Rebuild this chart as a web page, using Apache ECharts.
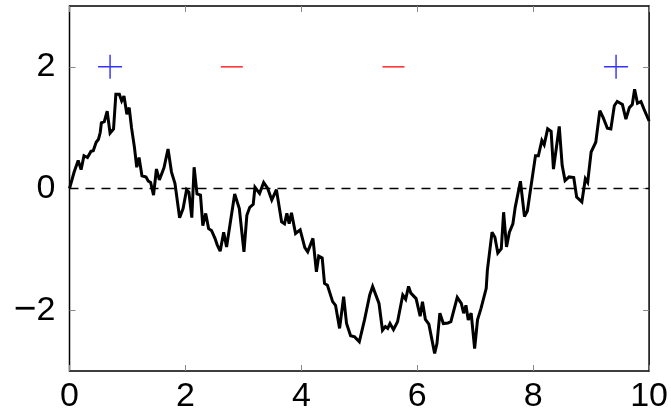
<!DOCTYPE html>
<html><head><meta charset="utf-8">
<script src="https://cdn.jsdelivr.net/npm/echarts@6/dist/echarts.min.js"></script>
<style>html,body{margin:0;padding:0;background:#fff}#c{width:671px;height:415px}</style>
</head><body><div id="c"></div>
<script>
// random-walk samples (x, y)
const walkX = [0,0.08,0.15,0.20,0.25,0.31,0.37,0.41,0.46,0.50,0.53,0.55,0.60,0.65,0.70,0.76,0.80,0.86,0.90,0.94,0.99,1.03,1.07,1.12,1.16,1.20,1.25,1.32,1.36,1.40,1.45,1.50,1.55,1.63,1.70,1.76,1.82,1.90,1.96,2.02,2.06,2.11,2.15,2.20,2.26,2.30,2.35,2.40,2.45,2.51,2.55,2.60,2.66,2.71,2.85,2.93,3.01,3.06,3.11,3.17,3.20,3.28,3.35,3.42,3.49,3.57,3.66,3.71,3.75,3.79,3.83,3.90,3.98,4.06,4.11,4.20,4.26,4.30,4.36,4.40,4.45,4.54,4.59,4.66,4.73,4.78,4.85,4.92,4.95,5.00,5.09,5.18,5.23,5.34,5.40,5.45,5.49,5.53,5.59,5.66,5.75,5.80,5.85,5.89,5.98,6.05,6.09,6.14,6.20,6.30,6.34,6.39,6.45,6.53,6.58,6.69,6.76,6.80,6.84,6.88,6.93,6.99,7.04,7.10,7.19,7.21,7.29,7.34,7.39,7.45,7.49,7.54,7.59,7.65,7.69,7.78,7.85,7.90,7.96,8.04,8.09,8.15,8.19,8.25,8.31,8.35,8.45,8.50,8.55,8.62,8.70,8.75,8.84,8.90,8.94,9.00,9.08,9.15,9.21,9.28,9.34,9.40,9.45,9.54,9.60,9.66,9.71,9.75,9.80,9.86,9.91,10.00];
const walkY = [0,0.27,0.46,0.31,0.54,0.51,0.61,0.62,0.76,0.81,0.92,1.08,1.10,1.27,0.91,0.98,1.55,1.55,1.44,1.52,1.22,1.33,1.00,0.68,0.35,0.51,0.21,0.19,0.12,0.10,-0.11,0.32,0.14,0.34,0.65,0.27,0.08,-0.48,-0.33,-0.02,-0.06,-0.48,0.35,-0.09,-0.11,-0.61,-0.41,-0.66,-0.69,-0.82,-0.93,-1.03,-0.72,-0.96,-0.09,-0.33,-1.04,-0.44,-0.31,-0.26,0.02,-0.08,0.10,0.00,-0.19,-0.02,-0.55,-0.58,-0.41,-0.58,-0.40,-0.74,-0.68,-0.97,-1.04,-0.82,-1.37,-1.11,-1.14,-1.56,-1.59,-1.86,-1.92,-2.30,-1.78,-2.22,-2.42,-2.44,-2.46,-2.52,-2.16,-1.75,-1.61,-1.89,-2.33,-2.27,-2.30,-2.22,-2.32,-2.19,-1.75,-1.82,-1.61,-1.72,-1.81,-2.10,-1.86,-2.15,-2.23,-2.71,-2.55,-2.05,-2.22,-2.21,-2.19,-1.79,-1.89,-2.05,-1.92,-2.16,-2.05,-2.63,-2.16,-1.97,-1.64,-1.34,-0.72,-0.80,-1.06,-0.99,-0.39,-0.96,-0.72,-0.58,-0.31,0.12,-0.46,-0.37,0.02,0.54,0.54,0.79,0.72,0.98,0.94,0.32,1.02,0.38,0.13,0.19,0.18,-0.14,-0.22,0.16,0.10,0.60,0.76,1.28,1.16,0.99,0.98,1.36,1.43,1.38,1.14,1.33,1.38,1.63,1.40,1.43,1.31,1.11];
const plusX = [0.70, 9.43];
const plusY = [2, 2];
const minusX = [2.80, 5.59];
const minusY = [2, 2];
const xTicks = [0, 2, 4, 6, 8, 10];
const yTicks = [-2, 0, 2];

const zip = (a, b) => a.map((v, i) => [v, b[i]]);
const font = 'Liberation Sans';
const tickStyle = {show: true, inside: true, length: 6, lineStyle: {color: '#888', width: 1}};
const fmt = v => (v < 0 ? '{m|\u2212}' + Math.abs(v) : String(v));
const rich = {m: {fontSize: 39, fontFamily: font, color: '#000'}};

const chart = echarts.init(document.getElementById('c'), null, {renderer: 'canvas'});
chart.setOption({
  animation: false,
  backgroundColor: '#fff',
  grid: {left: 69.5, right: 21, top: 6, bottom: 44, show: true, borderColor: '#000', borderWidth: 1.5, backgroundColor: 'transparent'},
  xAxis: [
    {type: 'value', min: 0, max: 10, interval: 2, position: 'bottom',
     axisLine: {show: false, onZero: false}, splitLine: {show: false},
     axisTick: Object.assign({}, tickStyle, {customValues: xTicks}),
     axisLabel: {color: '#000', fontSize: 34, fontFamily: font, margin: 9, customValues: xTicks, formatter: fmt, rich: rich}},
    {type: 'value', min: 0, max: 10, interval: 2, position: 'top',
     axisLine: {show: false, onZero: false}, splitLine: {show: false}, axisLabel: {show: false},
     axisTick: Object.assign({}, tickStyle, {customValues: xTicks})}
  ],
  yAxis: [
    {type: 'value', min: -3, max: 3, interval: 1, position: 'left',
     axisLine: {show: false, onZero: false}, splitLine: {show: false},
     axisTick: Object.assign({}, tickStyle, {customValues: yTicks}),
     axisLabel: {color: '#000', fontSize: 34, fontFamily: font, margin: 14, customValues: yTicks, formatter: fmt, rich: rich}},
    {type: 'value', min: -3, max: 3, interval: 1, position: 'right',
     axisLine: {show: false, onZero: false}, splitLine: {show: false}, axisLabel: {show: false},
     axisTick: Object.assign({}, tickStyle, {customValues: yTicks})}
  ],
  series: [
    {type: 'line', data: [[0, 0], [10, 0]], symbol: 'none', silent: true,
     lineStyle: {color: '#000', width: 1.3, type: [9, 7]}},
    {type: 'line', data: zip(walkX, walkY), symbol: 'none', silent: true,
     lineStyle: {color: '#000', width: 3, join: 'miter', miterLimit: 3}},
    {type: 'scatter', data: zip(plusX, plusY), silent: true,
     symbol: 'path://M0,9.4 L20,9.4 L20,10.6 L0,10.6 Z M9.4,0 L10.6,0 L10.6,20 L9.4,20 Z',
     symbolSize: [24, 24], itemStyle: {color: '#0000ff'}},
    {type: 'scatter', data: zip(minusX, minusY), silent: true,
     symbol: 'rect', symbolSize: [22, 1.6], itemStyle: {color: '#ff0000'}}
  ]
});
</script></body></html>
